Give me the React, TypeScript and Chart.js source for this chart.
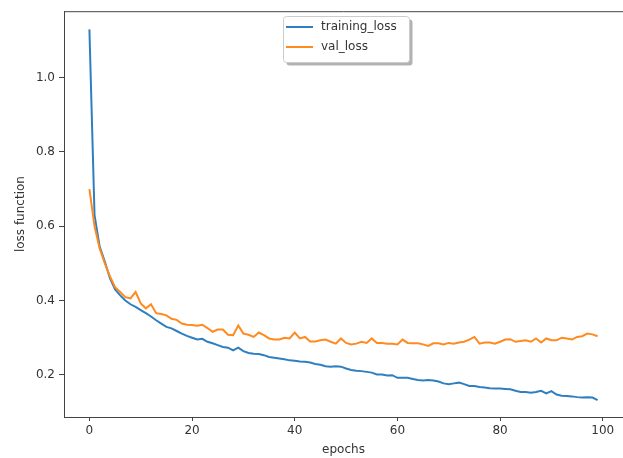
import React, { useEffect, useRef } from "react";
import { Chart, registerables } from "chart.js";

Chart.register(...registerables);

const trainingLoss = [
  1.13, 0.63, 0.545, 0.505, 0.46, 0.43, 0.414, 0.4, 0.39, 0.383,
  0.374, 0.366, 0.357, 0.347, 0.338, 0.329, 0.325, 0.318, 0.311, 0.305,
  0.3, 0.295, 0.297, 0.289, 0.285, 0.28, 0.275, 0.273, 0.266, 0.273,
  0.264, 0.259, 0.257, 0.256, 0.253, 0.248, 0.246, 0.244, 0.242, 0.239,
  0.238, 0.236, 0.235, 0.233, 0.229, 0.227, 0.223, 0.222, 0.223, 0.222,
  0.217, 0.213, 0.211, 0.21, 0.208, 0.206, 0.201, 0.201, 0.198, 0.199,
  0.192, 0.192, 0.192, 0.189, 0.186, 0.185, 0.186, 0.185, 0.182, 0.177,
  0.175, 0.177, 0.179, 0.175, 0.17, 0.17, 0.167, 0.166, 0.164, 0.163,
  0.163, 0.162, 0.161, 0.157, 0.154, 0.154, 0.152, 0.154, 0.157, 0.15,
  0.156, 0.147, 0.144, 0.143, 0.142, 0.14, 0.139, 0.14, 0.139, 0.132,
];

const valLoss = [
  0.7, 0.6, 0.54, 0.5, 0.465, 0.436, 0.423, 0.409, 0.406, 0.423,
  0.392, 0.379, 0.39, 0.366, 0.364, 0.36, 0.351, 0.348, 0.338, 0.335,
  0.334, 0.332, 0.335, 0.326, 0.316, 0.322, 0.322, 0.308, 0.307, 0.333,
  0.311, 0.308, 0.302, 0.314, 0.307, 0.298, 0.295, 0.295, 0.3, 0.298,
  0.314, 0.298, 0.302, 0.29, 0.29, 0.293, 0.295, 0.289, 0.284, 0.298,
  0.286, 0.282, 0.284, 0.289, 0.286, 0.298, 0.286, 0.286, 0.284, 0.284,
  0.282, 0.295, 0.286, 0.285, 0.285, 0.282, 0.278, 0.285, 0.285, 0.282,
  0.286, 0.284, 0.287, 0.289, 0.295, 0.302, 0.284, 0.287, 0.287, 0.284,
  0.289, 0.295, 0.296, 0.289, 0.291, 0.293, 0.289, 0.298, 0.287, 0.298,
  0.293, 0.293, 0.3, 0.298, 0.295, 0.302, 0.304, 0.311, 0.309, 0.304,
];

const xTicks = [0, 20, 40, 60, 80, 100];
const yTicks = [0.2, 0.4, 0.6, 0.8, 1.0];
const seriesNames = ["training_loss", "val_loss"];
const seriesColors = ["#2f7fc0", "#ff8a1f"];

const FONT = "'DejaVu Sans', sans-serif";

const framePlugin = {
  id: "frameAndLegend",
  afterDraw(chart: any) {
    const { ctx, chartArea } = chart;
    ctx.save();
    ctx.strokeStyle = "#444";
    ctx.lineWidth = 1;
    ctx.beginPath();
    ctx.moveTo(chartArea.left, chartArea.top + 0.5);
    ctx.lineTo(chartArea.right, chartArea.top + 0.5);
    ctx.stroke();

    // legend box (upper center)
    const bx = 283.5, by = 16.5, bw = 126, bh = 46;
    ctx.fillStyle = "rgba(0,0,0,0.3)";
    ctx.beginPath();
    ctx.roundRect(bx + 3, by + 3, bw, bh, 3);
    ctx.fill();
    ctx.fillStyle = "#fff";
    ctx.strokeStyle = "#cccccc";
    ctx.beginPath();
    ctx.roundRect(bx, by, bw, bh, 3);
    ctx.fill();
    ctx.stroke();
    ctx.font = `12px ${FONT}`;
    ctx.textBaseline = "middle";
    ctx.textAlign = "left";
    const rows = [27, 47];
    seriesNames.forEach((name, i) => {
      ctx.strokeStyle = seriesColors[i];
      ctx.lineWidth = 2;
      ctx.beginPath();
      ctx.moveTo(286, rows[i]);
      ctx.lineTo(313, rows[i]);
      ctx.stroke();
      ctx.fillStyle = "#333";
      ctx.fillText(name, 321, rows[i]);
    });
    ctx.restore();
  },
};

export default function App() {
  const ref = useRef<HTMLCanvasElement | null>(null);
  useEffect(() => {
    if (!ref.current) return;
    const chart = new Chart(ref.current, {
      type: "line",
      data: {
        datasets: [
          {
            label: seriesNames[0],
            data: trainingLoss.map((v, i) => ({ x: i, y: v })),
            borderColor: seriesColors[0],
            backgroundColor: seriesColors[0],
            borderWidth: 2,
            pointRadius: 0,
            tension: 0,
            order: 2,
          },
          {
            label: seriesNames[1],
            data: valLoss.map((v, i) => ({ x: i, y: v })),
            borderColor: seriesColors[1],
            backgroundColor: seriesColors[1],
            borderWidth: 2,
            pointRadius: 0,
            tension: 0,
            order: 1,
          },
        ],
      },
      options: {
        responsive: false,
        animation: false,
        layout: { padding: { left: 0, top: 10, right: 0, bottom: 0 } },
        plugins: {
          legend: { display: false },
          tooltip: { enabled: false },
        },
        scales: {
          x: {
            type: "linear",
            min: -4.95,
            max: 103.95,
            afterFit: (s: any) => {
              s.height = 41;
            },
            afterBuildTicks: (s: any) => {
              s.ticks = xTicks.map((v) => ({ value: v }));
            },
            grid: {
              drawOnChartArea: false,
              drawTicks: true,
              tickLength: 4,
              color: "#444",
            },
            border: { display: true, color: "#444", width: 1 },
            ticks: {
              color: "#333",
              font: { family: FONT, size: 12 },
              padding: 3,
              maxRotation: 0,
              callback: (v: any) => String(v),
            },
            title: {
              display: true,
              text: "epochs",
              color: "#333",
              font: { family: FONT, size: 12 },
              padding: { top: 0, bottom: 1 },
            },
          },
          y: {
            type: "linear",
            min: 0.0865,
            max: 1.179,
            afterFit: (s: any) => {
              s.width = 64;
            },
            afterBuildTicks: (s: any) => {
              s.ticks = yTicks.map((v) => ({ value: v }));
            },
            grid: {
              drawOnChartArea: false,
              drawTicks: true,
              tickLength: 5,
              color: "#444",
            },
            border: { display: true, color: "#444", width: 1 },
            ticks: {
              color: "#333",
              font: { family: FONT, size: 12 },
              padding: 4,
              callback: (v: any) => Number(v).toFixed(1),
            },
            title: {
              display: true,
              text: "loss function",
              color: "#333",
              font: { family: FONT, size: 12 },
              padding: { top: 14, bottom: 0 },
            },
          },
        },
      },
      plugins: [framePlugin],
    });
    return () => chart.destroy();
  }, []);
  return (
    <div style={{ position: "absolute", left: 0, top: 0, width: 623, height: 458, background: "#fff" }}>
      <canvas ref={ref} width={623} height={458} />
    </div>
  );
}
